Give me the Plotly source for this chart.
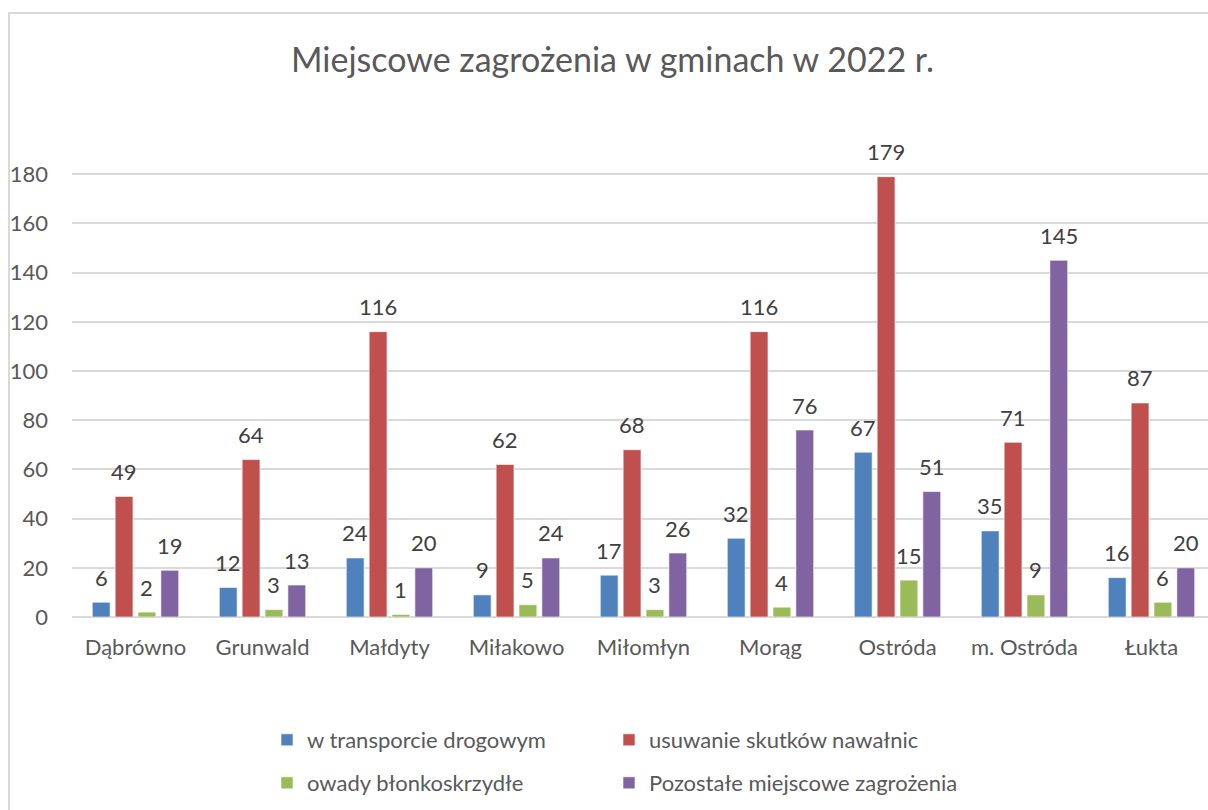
import plotly.graph_objects as go

categories = ["Dąbrówno", "Grunwald", "Małdyty", "Miłakowo", "Miłomłyn", "Morąg", "Ostróda", "m. Ostróda", "Łukta"]
transport = [6, 12, 24, 9, 17, 32, 67, 35, 16]
nawalnice = [49, 64, 116, 62, 68, 116, 179, 71, 87]
owady = [2, 3, 1, 5, 3, 4, 15, 9, 6]
pozostale = [19, 13, 20, 24, 26, 76, 51, 145, 20]
y_ticks = [0, 20, 40, 60, 80, 100, 120, 140, 160, 180]

series = [
    ("w transporcie drogowym", transport, "#4F81BD"),
    ("usuwanie skutków nawałnic", nawalnice, "#C0504D"),
    ("owady błonkoskrzydłe", owady, "#9BBB59"),
    ("Pozostałe miejscowe zagrożenia", pozostale, "#8064A2"),
]

FONT = "Lato, 'Open Sans', sans-serif"
W, H = 1208, 810
ML, MR, MT, MB = 72, 0, 125, 193
plot_w = W - ML - MR
plot_h = H - MT - MB
x_range = [-0.5, 8.445]
px_per_cat = plot_w / (x_range[1] - x_range[0])
bargap = 0.28
slot = px_per_cat * (1 - bargap) / len(series)

# legend placement (pixel positions of each entry: left x, centre y)
legend_pos = [(267, 740), (609, 740), (267, 783), (609, 783)]
legend_names = ["legend", "legend2", "legend3", "legend4"]

fig = go.Figure()
annotations = []
for si, (name, vals, color) in enumerate(series):
    fig.add_trace(go.Bar(
        x=categories, y=vals, name=name,
        marker=dict(color=color, line=dict(color="rgba(255,255,255,0.6)", width=1)),
        legend=legend_names[si],
    ))
    xshift = (si - (len(series) - 1) / 2) * slot
    for c, v in zip(categories, vals):
        annotations.append(dict(
            x=c, y=v, xref="x", yref="y", text=str(v), showarrow=False,
            xanchor="center", yanchor="middle", xshift=xshift, yshift=25,
            font=dict(family=FONT, size=22, color="#404040"),
        ))

legend_layout = {}
for ln, (lx, ly) in zip(legend_names, legend_pos):
    legend_layout[ln] = dict(
        x=(lx - ML) / plot_w, xanchor="left", y=(MT + plot_h - ly) / plot_h, yanchor="middle",
        font=dict(family=FONT, size=22, color="#595959"), bgcolor="rgba(0,0,0,0)",
    )

fig.update_layout(
    width=W, height=H,
    margin=dict(l=ML, r=MR, t=MT, b=MB),
    paper_bgcolor="white", plot_bgcolor="white",
    barmode="group", bargap=bargap, bargroupgap=0.22,
    font=dict(family=FONT, color="#595959"),
    title=dict(text="Miejscowe zagrożenia w gminach w 2022 r.", x=0.507, xanchor="center",
               y=0.926, yanchor="middle", font=dict(family=FONT, size=34, color="#595959")),
    xaxis=dict(type="category", range=x_range, showgrid=False, showline=False,
               tickfont=dict(family=FONT, size=22, color="#595959"), ticks="", ticklabelstandoff=15),
    yaxis=dict(range=[0, 200], tickvals=y_ticks, showgrid=True, gridcolor="#d9d9d9", gridwidth=2,
               zeroline=True, zerolinecolor="#d9d9d9", zerolinewidth=2,
               tickfont=dict(family=FONT, size=22, color="#595959"), ticks="", ticklabelstandoff=23),
    showlegend=True,
    annotations=annotations,
    **legend_layout,
)

# outer chart border
fig.add_shape(type="rect", xref="paper", yref="paper",
              x0=(9 - ML) / plot_w, x1=1.02, y0=-0.5, y1=(MT + plot_h - 13) / plot_h,
              line=dict(color="#d9d9d9", width=2), fillcolor="rgba(0,0,0,0)", layer="below")

fig.write_html("out.html", config={"displayModeBar": False},
               post_script="document.body.style.margin='0';document.body.style.overflow='hidden';")
